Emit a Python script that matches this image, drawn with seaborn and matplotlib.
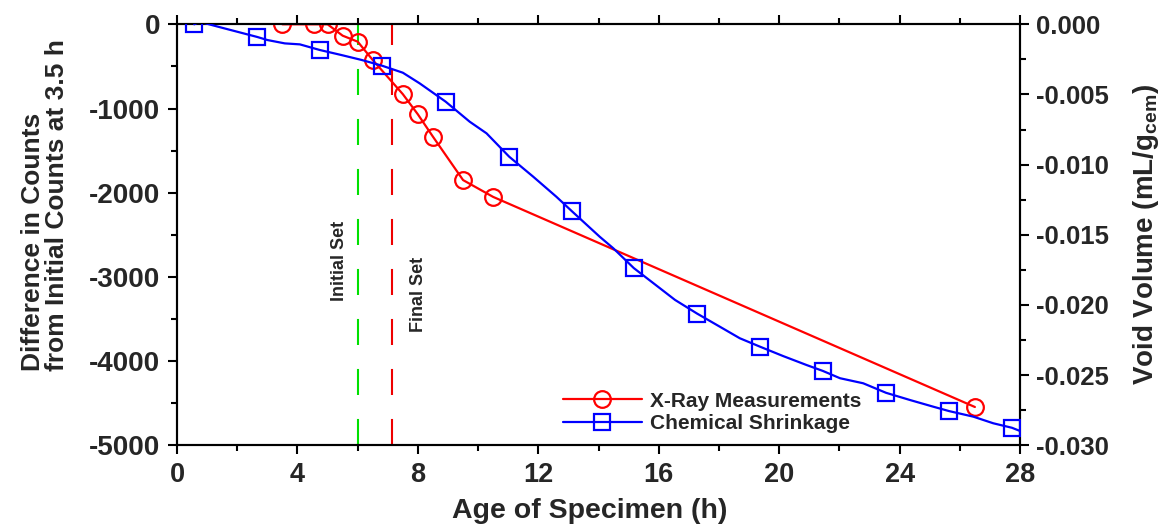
import matplotlib
matplotlib.use("Agg")
import matplotlib.pyplot as plt
import seaborn as sns
import pandas as pd
from matplotlib.ticker import MultipleLocator, FuncFormatter
from matplotlib.lines import Line2D

# ---------------- data ----------------
xray_age = [3.5, 4.55, 5.0, 5.5, 6.0, 6.5, 7.5, 8.0, 8.5, 9.5, 10.5, 26.5]
xray_counts = [0, 0, 0, -135, -206, -424, -830, -1070, -1335, -1850, -2050, -4545]

shrink_age = [0.57, 0.75, 1.36, 2.0, 2.66, 3.0, 3.58, 4.08, 4.74, 5.46, 6.13, 6.81,
              7.5, 8.06, 8.92, 9.72, 10.28, 11.03, 11.83, 12.6, 13.12, 14.04, 14.49,
              15.17, 16.04, 16.54, 17.27, 18.03, 18.69, 19.36, 20.13, 20.91, 21.45,
              22.02, 22.79, 23.55, 24.34, 25.12, 25.64, 26.45, 27.11, 27.73, 28.0]
shrink_void = [0.0, 0.00018, -0.00017, -0.00053, -0.00090, -0.00112, -0.00136, -0.00143,
               -0.00183, -0.00219, -0.00254, -0.00295, -0.00345, -0.00421, -0.00551,
               -0.00694, -0.00777, -0.00943, -0.01086, -0.01229, -0.01333, -0.01514,
               -0.01596, -0.01737, -0.01881, -0.01964, -0.02061, -0.02155, -0.02237,
               -0.02297, -0.02364, -0.02428, -0.02470, -0.02522, -0.02558, -0.02626,
               -0.02677, -0.02725, -0.02756, -0.02796, -0.02843, -0.02875, -0.02898]
shrink_marker_idx = [0, 4, 8, 11, 14, 17, 20, 23, 26, 29, 32, 35, 38, 41]

initial_set = 6.0
final_set = 7.15

x_ticks = [0, 4, 8, 12, 16, 20, 24, 28]
left_ticks = [0, -1000, -2000, -3000, -4000, -5000]
right_ticks = [0.0, -0.005, -0.010, -0.015, -0.020, -0.025, -0.030]

# ---------------- style ----------------
sns.set_style("white")
plt.rcParams['font.family'] = ['Liberation Sans', 'DejaVu Sans']
plt.rcParams['font.weight'] = 'bold'
plt.rcParams['axes.unicode_minus'] = False
plt.rcParams['mathtext.fontset'] = 'custom'
plt.rcParams['mathtext.rm'] = 'Liberation Sans:bold'
plt.rcParams['mathtext.bf'] = 'Liberation Sans:bold'
plt.rcParams['mathtext.it'] = 'Liberation Sans:bold'

fig = plt.figure(figsize=(11.61, 5.25), dpi=100)
ax = fig.add_axes([0.1525, 0.1518, 0.8786 - 0.1525, 0.9537 - 0.1518])
ax2 = ax.twinx()

df_x = pd.DataFrame({"age": xray_age, "counts": xray_counts})
df_s = pd.DataFrame({"age": shrink_age, "void": shrink_void})

red = "#ff0000"
blue = "#0000ff"

sns.lineplot(data=df_x, x="age", y="counts", ax=ax, color=red, lw=1.6,
             marker="o", markersize=12, markerfacecolor="none",
             markeredgecolor=red, markeredgewidth=1.6, estimator=None,
             sort=False, legend=False, zorder=3)

sns.lineplot(data=df_s, x="age", y="void", ax=ax2, color=blue, lw=1.6,
             marker="s", markersize=11.5, markerfacecolor="none",
             markeredgecolor=blue, markeredgewidth=1.6, markevery=shrink_marker_idx,
             estimator=None, sort=False, legend=False, zorder=3)

ax.axvline(initial_set, color="#00e000", lw=1.5, dashes=(12.5, 11.5), zorder=2)
ax.axvline(final_set, color="#ee0000", lw=1.5, dashes=(12.5, 11.5), zorder=2)

ax.text(5.4, -2811, "Initial Set", rotation=90, ha="center", va="center",
        fontsize=13, fontweight="bold")
ax.text(8.03, -3203, "Final Set", rotation=90, ha="center", va="center",
        fontsize=13, fontweight="bold")

ax.set_xlim(0, 28)
ax.set_ylim(-5000, 0)
ax2.set_ylim(-0.030, 0.0)

ax.set_xticks(x_ticks)
ax.xaxis.set_minor_locator(MultipleLocator(2))
ax.set_yticks(left_ticks)
ax.yaxis.set_minor_locator(MultipleLocator(500))
ax2.set_yticks(right_ticks)
ax2.yaxis.set_minor_locator(MultipleLocator(0.0025))
ax2.yaxis.set_major_formatter(FuncFormatter(lambda v, p: f"{v:.3f}" if abs(v) > 1e-12 else "0.000"))

for a in (ax, ax2):
    for s in a.spines.values():
        s.set_linewidth(1.5)
        s.set_color("black")
    a.tick_params(which="major", direction="out", length=6.3, width=1.5, color="black")
    a.tick_params(which="minor", direction="out", length=4, width=1.5, color="black")

ax.tick_params(axis="x", which="both", top=True, bottom=True)
ax.tick_params(axis="y", which="both", left=True, right=False)
ax.tick_params(axis="y", labelsize=20, pad=6)
ax2.tick_params(axis="y", which="both", right=True, left=False, labelsize=18.5, pad=5)
ax.tick_params(axis="x", labelsize=19.5, pad=6)
for lab in ax.get_xticklabels() + ax.get_yticklabels() + ax2.get_yticklabels():
    lab.set_fontweight("bold")

ax.set_xlabel("Age of Specimen (h)", fontsize=20.5, fontweight="bold")
ax.xaxis.set_label_coords(0.489, -0.125)
ax.set_ylabel("Difference in Counts\nfrom Initial Counts at 3.5 h", fontsize=19,
              fontweight="bold", linespacing=1.0, multialignment="left")
ax.yaxis.set_label_coords(-0.128, 0.571)
ax2.set_ylabel(r"Void Volume (mL/g$_{\mathrm{cem}}$)", fontsize=20, fontweight="bold", labelpad=16)

handles = [
    Line2D([], [], color=red, lw=1.6, marker="o", markersize=12, markerfacecolor="none",
           markeredgecolor=red, markeredgewidth=1.6),
    Line2D([], [], color=blue, lw=1.6, marker="s", markersize=11.5, markerfacecolor="none",
           markeredgecolor=blue, markeredgewidth=1.6),
]
leg = ax2.legend(handles, ["X-Ray Measurements", "Chemical Shrinkage"],
                 loc="lower left", bbox_to_anchor=(0.44, -0.005), frameon=False,
                 prop={"weight": "bold", "size": 15}, handlelength=3.8,
                 handletextpad=0.4, labelspacing=0.15, borderaxespad=0.3)

fig.savefig("out.png", dpi=100)
